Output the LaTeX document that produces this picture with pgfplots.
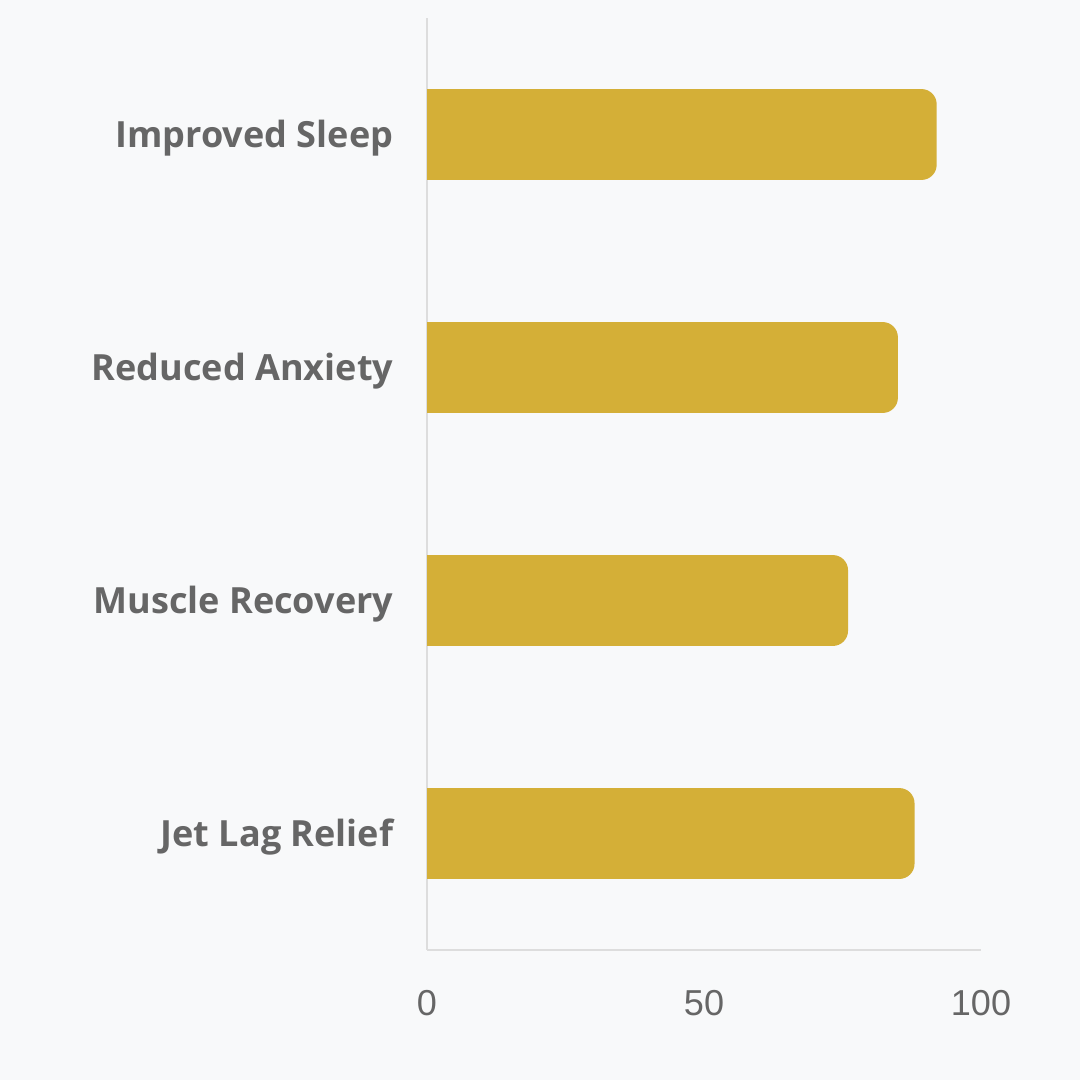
\documentclass[border=0pt]{standalone}
\usepackage{pgfplots}
\pgfplotsset{compat=1.18}
\usepackage{pgfplotstable}
\usepackage{fontspec}
\setmainfont{Open Sans}
\newfontfamily\tickfont{Liberation Sans}

\definecolor{bgc}{HTML}{F8F9FA}
\definecolor{gold}{HTML}{D4AF37}
\definecolor{txt}{HTML}{666666}
\definecolor{axc}{HTML}{DDDDDD}

% value per benefit, top to bottom
\pgfplotstableread{
pos v
0 92
1 85
2 76
3 88
}\benefits

\begin{document}
\begin{tikzpicture}
\path[use as bounding box, fill=bgc] (-3.9537,-1.2037) rectangle (6.0463,8.7963);
\begin{axis}[
    at={(0,0)}, anchor=south west,
    scale only axis,
    width=5.1296cm, height=8.6296cm,
    xmin=0, xmax=100,
    ymin=-0.5, ymax=3.5,
    y dir=reverse,
    axis x line=bottom, axis y line=left,
    axis line style={draw=axc, line width=0.5pt, -},
    major tick length=0pt,
    xtick={0,50,100},
    ytick={0,1,2,3},
    yticklabels={Improved Sleep, Reduced Anxiety, Muscle Recovery, Jet Lag Relief},
    yticklabel style={font=\fontsize{9.5}{11}\selectfont\bfseries, text=txt, anchor=east, inner sep=0pt, xshift=-0.3056cm, yshift=-0.035cm},
    xticklabel style={font=\fontsize{9.5}{11}\selectfont\tickfont, text=txt, anchor=north, inner sep=0pt, yshift=-0.37cm},
    /pgf/number format/assume math mode=true,
    xbar,
    bar width=0.39,
    clip=false,
]
\addplot[fill=gold, draw=none, bar shift=0pt, rounded corners=4pt] table[x=v, y=pos] {\benefits};
\addplot[fill=gold, draw=none, bar shift=0pt] table[x expr=\thisrow{v}-6, y=pos] {\benefits};
\end{axis}
\end{tikzpicture}
\end{document}
